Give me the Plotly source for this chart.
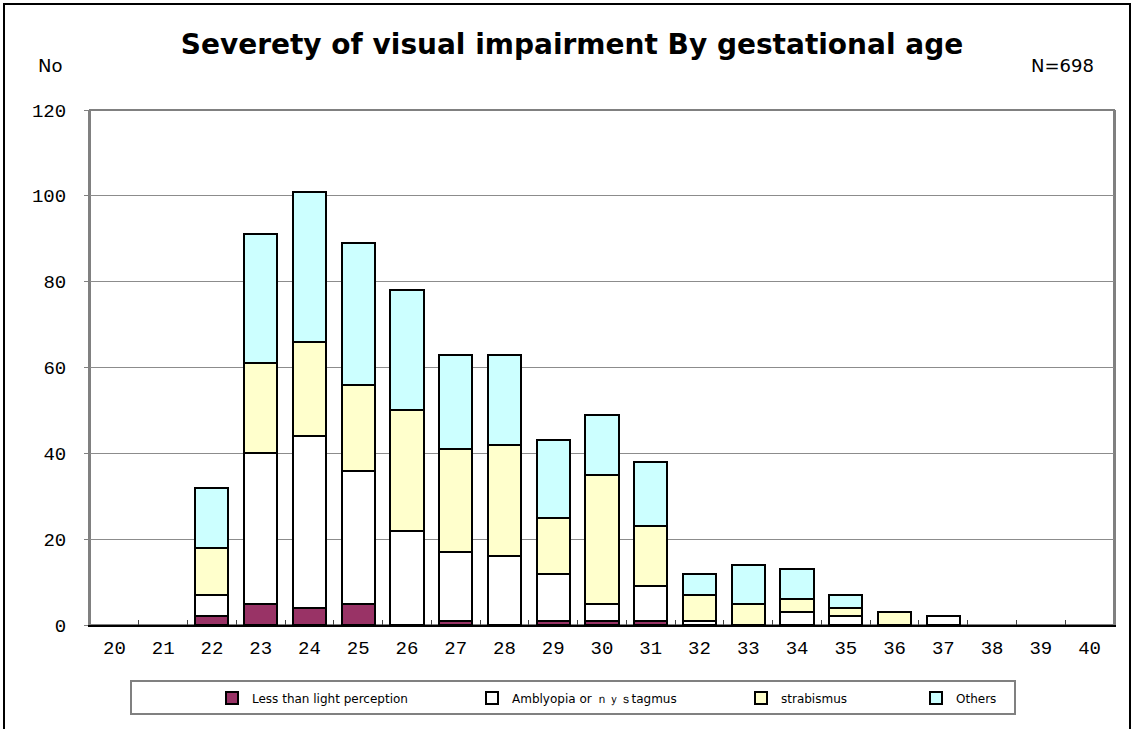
import plotly.graph_objects as go

AGES = [str(a) for a in range(20, 41)]

# counts per gestational week (20..40)
LESS_THAN_LIGHT = [0, 0, 2, 5, 4, 5, 0, 1, 0, 1, 1, 1, 0, 0, 0, 0, 0, 0, 0, 0, 0]
AMBLYOPIA = [0, 0, 5, 35, 40, 31, 22, 16, 16, 11, 4, 8, 1, 0, 3, 2, 0, 2, 0, 0, 0]
STRABISMUS = [0, 0, 11, 21, 22, 20, 28, 24, 26, 13, 30, 14, 6, 5, 3, 2, 3, 0, 0, 0, 0]
OTHERS = [0, 0, 14, 30, 35, 33, 28, 22, 21, 18, 14, 15, 5, 9, 7, 3, 0, 0, 0, 0, 0]

SERIES = [
    ("Less than light perception", LESS_THAN_LIGHT, "#993366"),
    ("Amblyopia or ｎｙｓtagmus", AMBLYOPIA, "#FFFFFF"),
    ("strabismus", STRABISMUS, "#FFFFCC"),
    ("Others", OTHERS, "#CCFFFF"),
]
# left edge of each legend entry (px)
LEGEND_X = [212, 472, 741, 916]

W, H = 1134, 729
L, R, T, B = 90, 20, 110, 104
PW, PH = W - L - R, H - T - B


def px_x(x):
    return (x - L) / PW


def px_y(y):
    return (H - B - y) / PH


fig = go.Figure()
for i, (name, values, color) in enumerate(SERIES):
    fig.add_trace(
        go.Bar(
            x=AGES,
            y=[v if v else None for v in values],
            name=name,
            legend="legend" if i == 0 else f"legend{i + 1}",
            marker={"color": color, "line": {"color": "black", "width": 2}},
        )
    )

legend_style = {
    "orientation": "h",
    "y": px_y(698),
    "yanchor": "middle",
    "xanchor": "left",
    "font": {"size": 12, "family": "DejaVu Sans"},
    "bgcolor": "rgba(0,0,0,0)",
}
legends = {}
for i, lx in enumerate(LEGEND_X):
    key = "legend" if i == 0 else f"legend{i + 1}"
    legends[key] = {**legend_style, "x": px_x(lx)}

fig.update_layout(
    width=W,
    height=H,
    barmode="stack",
    bargap=0.32,
    plot_bgcolor="white",
    paper_bgcolor="white",
    margin={"l": L, "r": R, "t": T, "b": B, "autoexpand": False},
    font={"family": "DejaVu Sans", "color": "black"},
    title={
        "text": "<b>Severety of visual impairment By gestational age</b>",
        "x": 572 / W,
        "xanchor": "center",
        "y": 1 - 44 / H,
        "yanchor": "middle",
        "font": {"size": 28, "family": "DejaVu Sans"},
    },
    showlegend=True,
    **legends,
)

fig.update_xaxes(
    type="category",
    showline=True,
    linecolor="black",
    linewidth=2,
    ticks="inside",
    tickson="boundaries",
    ticklen=5,
    tickcolor="#404040",
    tickfont={"family": "Liberation Mono", "size": 19},
    ticklabelstandoff=4,
    showgrid=False,
)
fig.update_yaxes(
    range=[0, 120],
    dtick=20,
    showline=True,
    linecolor="#808080",
    linewidth=2,
    mirror=True,
    ticks="outside",
    ticklen=4,
    tickcolor="#808080",
    gridcolor="#8c8c8c",
    gridwidth=1,
    tickfont={"family": "Liberation Mono", "size": 19},
    ticklabelstandoff=14,
    zeroline=False,
)

# plot frame (top edge), outer chart frame and legend box
fig.add_shape(
    type="rect", xref="paper", yref="paper", x0=0, x1=1, y0=0, y1=1,
    line={"color": "#808080", "width": 2}, layer="below",
)
fig.add_shape(
    type="rect", xref="paper", yref="paper",
    x0=px_x(4), x1=px_x(1130), y0=px_y(760), y1=px_y(4),
    line={"color": "black", "width": 2},
)
fig.add_shape(
    type="rect", xref="paper", yref="paper",
    x0=px_x(131), x1=px_x(1015), y0=px_y(714), y1=px_y(681),
    line={"color": "#808080", "width": 2},
)

fig.add_annotation(
    text="No", xref="paper", yref="paper", x=px_x(36), y=px_y(66),
    xanchor="left", yanchor="middle", showarrow=False, font={"size": 18},
)
fig.add_annotation(
    text="N=698", xref="paper", yref="paper", x=px_x(1096), y=px_y(66),
    xanchor="right", yanchor="middle", showarrow=False, font={"size": 18},
)

# drop the default 8px page margin so the 1134x729 figure fills the window exactly
fig.write_html(
    "out.html",
    config={"displayModeBar": False},
    post_script="document.body.style.margin = '0';",
)
